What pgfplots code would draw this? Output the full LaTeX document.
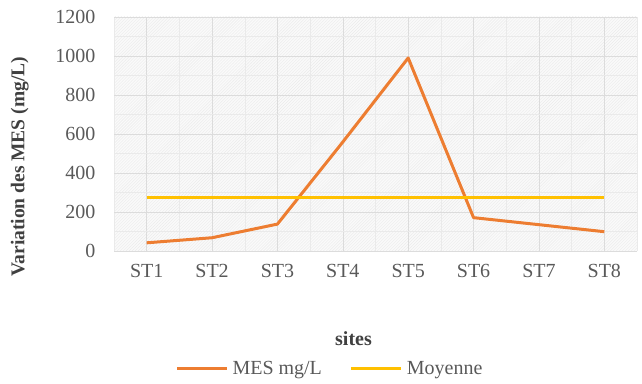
\documentclass[border=0pt]{standalone}
\usepackage{pgfplots}
\pgfplotsset{compat=1.18}
\usetikzlibrary{patterns}
\usepackage{fontspec}
\setmainfont{Liberation Serif}
\definecolor{mesorange}{HTML}{ED7D31}
\definecolor{moygold}{HTML}{FFC000}
\definecolor{txtgray}{HTML}{595959}
\definecolor{labgray}{HTML}{404040}
\definecolor{gridgray}{HTML}{DCDCDC}
\begin{document}
\begin{tikzpicture}[x=1bp,y=1bp]
\path[use as bounding box] (0,0) rectangle (642,383);
\begin{axis}[
  at={(114bp,132bp)}, anchor=south west,
  scale only axis, width=523bp, height=234bp,
  xmin=-0.5, xmax=7.5, ymin=0, ymax=1200,
  xtick={0,...,7},
  xticklabels={ST1,ST2,ST3,ST4,ST5,ST6,ST7,ST8},
  minor xtick={-0.5,0.5,...,7.5},
  ytick={0,200,...,1200},
  minor ytick={100,300,...,1100},
  xmajorgrids, xminorgrids, ymajorgrids, yminorgrids,
  major grid style={gridgray, line width=0.6bp},
  minor grid style={gridgray!60, line width=0.5bp},
  axis line style={draw=none},
  major tick length=0pt, minor tick length=0pt,
  tick label style={font=\fontsize{20bp}{23bp}\selectfont, text=txtgray},
  /pgf/number format/assume math mode=true,
  /pgf/number format/1000 sep={},
  yticklabel style={xshift=-15bp},
  xticklabel style={yshift=-10bp},
  axis background/.style={fill=gray!4, postaction={pattern=north east lines, pattern color=gray!16}},
  ylabel={\textbf{Variation des MES (mg/L)}},
  ylabel style={at={(axis description cs:-0.18,0.36)}, anchor=center, font=\fontsize{19.5bp}{22bp}\selectfont, text=labgray},
  xlabel={\textbf{sites}},
  xlabel style={at={(axis description cs:0.458,-0.376)}, anchor=center, font=\fontsize{20bp}{23bp}\selectfont, text=labgray},
  legend columns=2,
  legend style={at={(axis description cs:0.413,-0.504)}, anchor=center, draw=none, fill=none,
    font=\fontsize{20bp}{23bp}\selectfont, text=txtgray,
    inner xsep=0pt,
    /tikz/every odd column/.append style={column sep=2bp},
    /tikz/every even column/.append style={column sep=26bp}},
  legend image code/.code={\draw[#1, line width=3bp] (0bp,0bp) -- (50bp,0bp);},
  every axis plot/.append style={line width=3bp},
]
\addplot[mesorange, line join=round] coordinates {
  (0,42) (1,68) (2,138) (3,559) (4,990) (5,171) (6,135) (7,99)
};
\addlegendentry{MES mg/L}
\addplot[moygold] coordinates {
  (0,272) (1,272) (2,272) (3,272) (4,272) (5,272) (6,272) (7,272)
};
\addlegendentry{Moyenne}
\end{axis}
\end{tikzpicture}
\end{document}
